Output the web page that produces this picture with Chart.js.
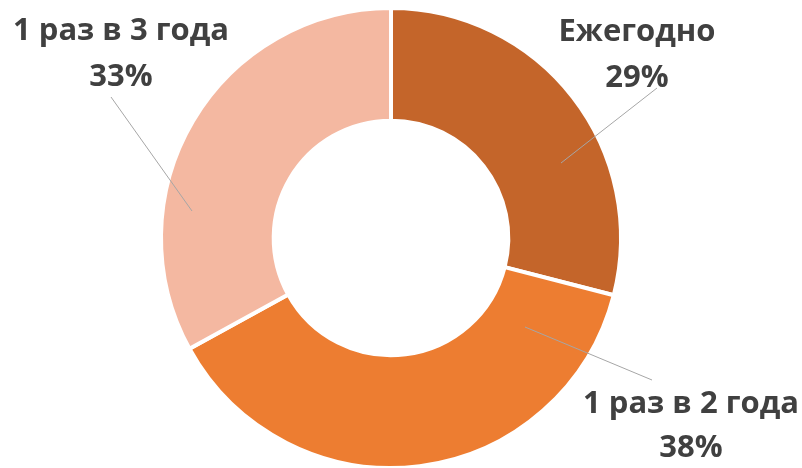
<!DOCTYPE html>
<html>
<head>
<meta charset="utf-8">
<script src="https://cdn.jsdelivr.net/npm/chart.js@4.4.0/dist/chart.umd.min.js"></script>
<style>
  html, body { margin: 0; padding: 0; background: #fff; }
  #wrap { width: 802px; height: 468px; position: relative; }
</style>
</head>
<body>
<div id="wrap"><canvas id="donut"></canvas></div>
<script>
// data
var categories = ["Ежегодно", "1 раз в 2 года", "1 раз в 3 года"];
var shares = [29, 38, 33];
var colors = ["#C4652A", "#ED7D31", "#F4B8A1"];

// label placement relative to the centre (dx, baseline dy line1, line2) and leader line
var labelLayout = [
    {dx: 246, dy1: -197, dy2: -151, line: [266, -150, 170, -75]},
    {dx: 300, dy1: 175, dy2: 219, line: [261, 142, 134, 89]},
    {dx: -270, dy1: -198, dy2: -152, line: [-280, -141, -199, -27]}
];

var outsideLabels = {
    id: 'outsideLabels',
    afterDatasetsDraw: function(chart){
        var ctx = chart.ctx;
        var meta = chart.getDatasetMeta(0);
        var total = shares.reduce(function(a, b){ return a + b; }, 0);
        ctx.save();
        for(var i in meta.data){
            var arc = meta.data[i];
            var cx = arc.x, cy = arc.y;
            var l = labelLayout[i];
            ctx.strokeStyle = '#A6A6A6';
            ctx.lineWidth = 1;
            ctx.beginPath();
            ctx.moveTo(cx + l.line[0], cy + l.line[1]);
            ctx.lineTo(cx + l.line[2], cy + l.line[3]);
            ctx.stroke();
            ctx.fillStyle = '#404040';
            ctx.font = 'bold 31px "Open Sans"';
            ctx.textAlign = 'center';
            ctx.textBaseline = 'alphabetic';
            ctx.fillText(categories[i], cx + l.dx, cy + l.dy1);
            ctx.fillText(Math.round(shares[i] / total * 100) + '%', cx + l.dx, cy + l.dy2);
        }
        ctx.restore();
    }
};

var chart = new Chart(document.getElementById('donut'), {
    type: 'doughnut',
    data: {
        labels: categories,
        datasets: [{
            data: shares,
            backgroundColor: colors,
            borderColor: '#ffffff',
            borderWidth: 4,
            hoverOffset: 0
        }]
    },
    options: {
        responsive: true,
        maintainAspectRatio: false,
        animation: false,
        radius: 230,
        cutout: '51%',
        layout: { padding: { top: 8, bottom: 0, left: 0, right: 20 } },
        plugins: {
            legend: { display: false },
            tooltip: { enabled: false }
        }
    },
    plugins: [outsideLabels]
});
</script>
</body>
</html>
